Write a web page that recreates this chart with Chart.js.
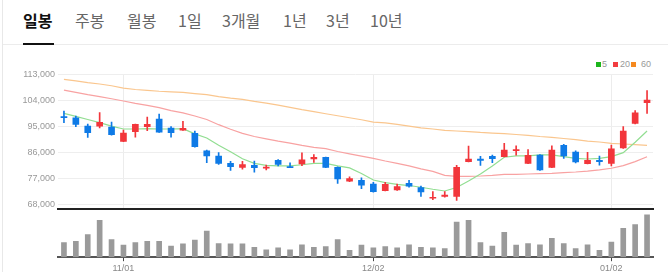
<!DOCTYPE html>
<html>
<head>
<meta charset="utf-8">
<script src="https://cdn.jsdelivr.net/npm/chart.js@4"></script>
<style>
  body { margin: 0; width: 668px; height: 272px; overflow: hidden; background: #fff; }
  #wrap { position: relative; width: 668px; height: 272px; }
  .tab { position: absolute; top: 9px; font: 16px/22px "Noto Sans CJK KR", sans-serif; color: #666; white-space: nowrap; }
  .tab.on { color: #111; font-weight: bold; }
  .lg { position: absolute; top: 59px; font: 9px/11px "Liberation Sans", sans-serif; color: #999; }
  .sq { position: absolute; top: 62px; width: 5px; height: 5px; }
  canvas { position: absolute; left: 0; }
</style>
</head>
<body>
<div id="wrap">
  <div style="position:absolute;left:2px;top:0;width:1px;height:272px;background:#e8e8e8"></div>
  <div class="tab on" style="left:23px">일봉</div>
  <div class="tab" style="left:75px">주봉</div>
  <div class="tab" style="left:127px">월봉</div>
  <div class="tab" style="left:178px">1일</div>
  <div class="tab" style="left:222px">3개월</div>
  <div class="tab" style="left:283px">1년</div>
  <div class="tab" style="left:326px">3년</div>
  <div class="tab" style="left:370px">10년</div>
  <div style="position:absolute;left:3px;top:44px;width:665px;height:1px;background:#ececec"></div>
  <div style="position:absolute;left:23px;top:43px;width:31px;height:2px;background:#111"></div>

  <div class="sq" style="left:596px;background:#1cb51c"></div><div class="lg" style="left:602px">5</div>
  <div class="sq" style="left:613px;background:#f23c40"></div><div class="lg" style="left:620px">20</div>
  <div class="sq" style="left:631px;background:#f5891f"></div><div class="lg" style="left:641px">60</div>

  <canvas id="candle" width="668" height="161" style="top:56px"></canvas>
  <canvas id="volume" width="668" height="67" style="top:209px"></canvas>
</div>
<script>
// 일봉 데이터 (10/25 ~ 01/07)
const labels = ['10/25','10/28','10/29','10/30','10/31','11/01','11/04','11/05','11/06','11/07',
  '11/08','11/11','11/12','11/13','11/14','11/15','11/18','11/19','11/20','11/21',
  '11/22','11/25','11/26','11/27','11/28','11/29','12/02','12/03','12/04','12/05',
  '12/06','12/09','12/10','12/11','12/12','12/13','12/16','12/17','12/18','12/19',
  '12/20','12/23','12/24','12/26','12/27','12/30','01/02','01/03','01/06','01/07'];

const openPrices = [98400,98000,95100,95100,94800,89800,93200,94900,97500,94400,
  93700,92600,86500,84700,82200,80800,81500,80500,83200,81000,
  82000,83700,84300,80800,76000,76300,75000,72700,73000,75300,
  73800,70100,70700,70700,82800,83700,84600,84500,86600,82200,
  85100,80800,88400,86100,82100,83200,82200,87500,96000,103200];
const highPrices = [100300,98600,95800,99800,96500,93700,95800,98200,99300,94900,
  96800,93400,86800,85900,82900,82900,83000,81600,83500,82400,
  85800,85200,84400,81000,77500,77200,75600,75600,75000,76300,
  74300,72400,72400,81500,88200,84600,85100,89100,88300,87000,
  85200,88300,88800,86500,86000,84700,88500,94900,100500,107400];
const lowPrices = [96300,94900,91200,94500,92000,89700,91300,93500,92900,91300,
  93600,87800,82400,81800,79700,80200,79100,79900,81300,80700,
  81400,82500,80700,75200,75800,73400,72200,72600,72800,73900,
  70700,69600,70500,69300,82700,81500,82400,84400,85000,82100,
  79700,80700,83900,82300,82000,81600,81300,87400,95900,99500];
const closePrices = [98000,95700,92800,96400,92100,92700,95700,95700,93000,92800,
  94300,88000,84800,82200,81000,81800,80700,80900,81800,80700,
  83400,84300,80800,76800,76900,74600,72400,74900,74100,74300,
  72300,70400,71200,80800,83700,83200,83800,86800,86900,85000,
  79900,86800,84800,82700,83200,82800,87200,93400,99700,104100];

// 이동평균선 (화면에서 읽은 값)
const ma5 = [99500,98500,97400,96300,95100,94100,94100,94200,94100,94100,
  94200,92400,91000,88500,86200,83800,82200,81500,81300,81300,
  81700,82200,82200,81300,80600,78700,76400,75500,74900,74500,
  73900,73200,72600,73800,76100,78500,81300,84300,84800,84800,
  85100,85100,84500,83900,83700,83900,84500,85900,89500,93400];
const ma20 = [107600,106800,106000,105300,104600,103800,103000,102300,101500,100500,
  99700,98600,97400,95600,94000,92600,91500,90700,89900,89200,
  88400,87700,87300,86300,85500,84700,83900,83000,82200,81300,
  80300,79400,78000,77700,77700,77800,78000,78400,78400,78500,
  78600,78700,79000,79200,79500,79900,80500,81400,82800,84500];
const ma60 = [111300,110800,110200,109700,109100,108300,107800,107500,107200,107000,
  106800,106400,106000,105300,104800,104400,103700,103100,102400,101600,
  100800,100100,99400,98700,98000,97300,96500,96200,95700,95100,
  94500,94100,93600,93400,93200,92900,92700,92500,92200,91900,
  91500,91200,90800,90400,89900,89600,89100,88900,88700,88400];

const volumes = [340000,370000,530000,860000,410000,280000,340000,370000,370000,260000,
  310000,400000,610000,320000,310000,310000,230000,170000,220000,170000,
  290000,230000,250000,410000,160000,280000,220000,250000,220000,290000,
  230000,220000,200000,820000,860000,340000,260000,580000,280000,320000,
  290000,440000,320000,200000,290000,160000,350000,670000,760000,990000];

const yTicks = [68000, 77000, 86000, 95000, 104000, 113000];
const xTickLabels = ['11/01', '12/02', '01/02'];

Chart.defaults.font.family = '"Liberation Sans", sans-serif';

const UP = '#f2363b';
const DOWN = '#0e7ae6';
const candleColors = closePrices.map((c, i) => c >= openPrices[i] ? UP : DOWN);

function isLabelTick(i) {
  return xTickLabels.includes(labels[i]);
}

new Chart(document.getElementById('candle'), {
  type: 'bar',
  data: {
    labels: labels,
    datasets: [
      { type: 'line', label: '60', data: ma60, borderColor: '#fac68e', borderWidth: 1.2, pointRadius: 0, order: 5 },
      { type: 'line', label: '20', data: ma20, borderColor: '#f8a2a2', borderWidth: 1.2, pointRadius: 0, order: 4 },
      { type: 'line', label: '5', data: ma5, borderColor: '#92de92', borderWidth: 1.2, pointRadius: 0, order: 3 },
      {
        label: 'wick',
        data: lowPrices.map((l, i) => [l, highPrices[i]]),
        backgroundColor: candleColors,
        barThickness: 1,
        grouped: false,
        order: 2
      },
      {
        label: 'body',
        data: openPrices.map((o, i) => [o, closePrices[i]]),
        backgroundColor: candleColors,
        barThickness: 6,
        minBarLength: 1,
        grouped: false,
        order: 1
      }
    ]
  },
  options: {
    responsive: false,
    animation: false,
    events: [],
    layout: { padding: { top: 18.5, right: 15, bottom: 4, left: 0 } },
    plugins: { legend: { display: false }, tooltip: { enabled: false } },
    scales: {
      x: {
        offset: true,
        grid: {
          offset: false,
          drawTicks: false,
          color: ctx => isLabelTick(ctx.index) ? '#ececec' : 'rgba(0,0,0,0)'
        },
        border: { color: '#222', width: 2 },
        ticks: { display: false }
      },
      y: {
        min: 66500,
        max: 113000,
        afterBuildTicks: s => { s.ticks = yTicks.map(v => ({ value: v })); },
        afterFit: s => { s.width = 58; },
        grid: { color: '#eeeeee', drawTicks: false },
        border: { display: false },
        ticks: {
          padding: 3,
          color: '#999',
          font: { size: 9 },
          callback: v => v.toLocaleString('en-US')
        }
      }
    }
  }
});

new Chart(document.getElementById('volume'), {
  type: 'bar',
  data: {
    labels: labels,
    datasets: [{ data: volumes, backgroundColor: '#9a9a9a', barThickness: 5 }]
  },
  options: {
    responsive: false,
    animation: false,
    events: [],
    layout: { padding: { top: 4, right: 15, bottom: 0, left: 58 } },
    plugins: { legend: { display: false }, tooltip: { enabled: false } },
    scales: {
      x: {
        offset: true,
        grid: {
          offset: false,
          drawOnChartArea: false,
          tickLength: 4,
          color: ctx => isLabelTick(ctx.index) ? '#444' : 'rgba(0,0,0,0)'
        },
        border: { color: '#555', width: 2 },
        ticks: {
          autoSkip: false,
          maxRotation: 0,
          padding: 2,
          color: '#888',
          font: { size: 9 },
          callback: (v, i) => isLabelTick(i) ? labels[i] : ''
        }
      },
      y: { display: false, min: 0, max: 1030000 }
    }
  }
});
</script>
</body>
</html>
